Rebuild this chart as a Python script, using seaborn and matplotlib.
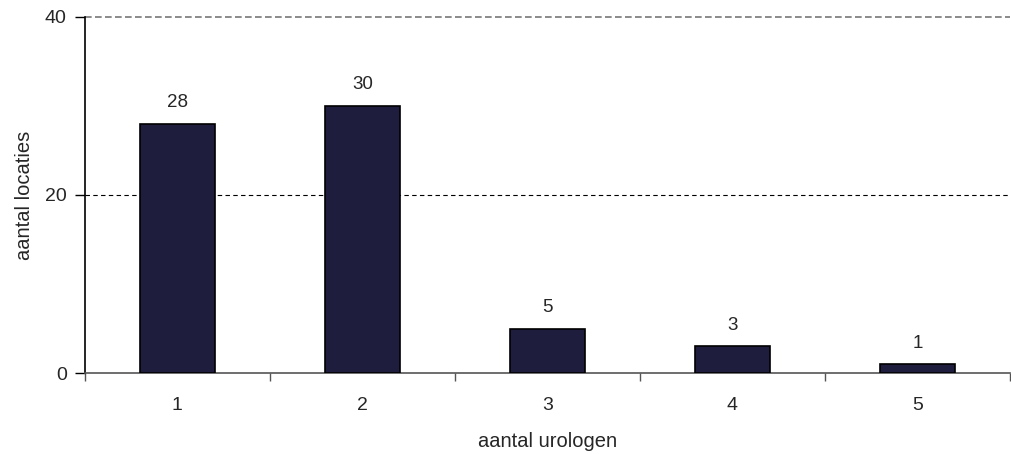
import numpy as np
import pandas as pd
import matplotlib
matplotlib.use('Agg')
import matplotlib.pyplot as plt
import seaborn as sns

urologen = ['1', '2', '3', '4', '5']
locaties = [28, 30, 5, 3, 1]
y_ticks = [0, 20, 40]

bar_color = '#1f1d3d'

sns.set_style('white')
plt.rcParams['font.family'] = ['Liberation Sans', 'DejaVu Sans']

df = pd.DataFrame({'urologen': urologen, 'locaties': locaties})

fig = plt.figure(figsize=(10.11, 4.54), dpi=100)
ax = fig.add_axes([0.084, 0.178, 0.915, 0.785])

sns.barplot(data=df, x='urologen', y='locaties', color=bar_color,
            width=0.41, saturation=1, edgecolor='black', linewidth=1.2,
            ax=ax, zorder=3)

# value labels above the bars
for i, v in enumerate(locaties):
    ax.text(i, v + 1.4, str(v), ha='center', va='bottom', fontsize=13.5)

ax.set_ylim(0, 40)
ax.set_xlim(-0.5, len(urologen) - 0.5)
ax.set_yticks(y_ticks)
ax.set_yticklabels([str(t) for t in y_ticks], fontsize=14)

# tick marks between categories, labels centred under bars
ax.set_xticks(np.arange(-0.5, len(urologen), 1.0))
ax.set_xticklabels([''] * (len(urologen) + 1))
ax.set_xticks(np.arange(len(urologen)), minor=True)
ax.set_xticklabels(urologen, minor=True, fontsize=14)
ax.tick_params(axis='x', which='major', direction='out', length=6,
               width=1, color='#555555', bottom=True)
ax.tick_params(axis='x', which='minor', length=0, pad=17)
ax.tick_params(axis='y', direction='out', length=7, width=1,
               color='black', left=True, pad=6)

# gridlines
ax.axhline(20, color='black', linestyle=(0, (4, 3)), linewidth=0.8, zorder=1)
ax.axhline(40, color='#777777', linestyle=(0, (4, 2)), linewidth=1.2,
           zorder=1, clip_on=False)

for side in ['top', 'right']:
    ax.spines[side].set_visible(False)
ax.spines['left'].set_color('black')
ax.spines['left'].set_linewidth(1.2)
ax.spines['bottom'].set_color('#555555')
ax.spines['bottom'].set_linewidth(1.2)

ax.set_xlabel('aantal urologen', fontsize=14.5, labelpad=13)
ax.set_ylabel('aantal locaties', fontsize=14.5, labelpad=8)

fig.savefig('out.png', dpi=100)
